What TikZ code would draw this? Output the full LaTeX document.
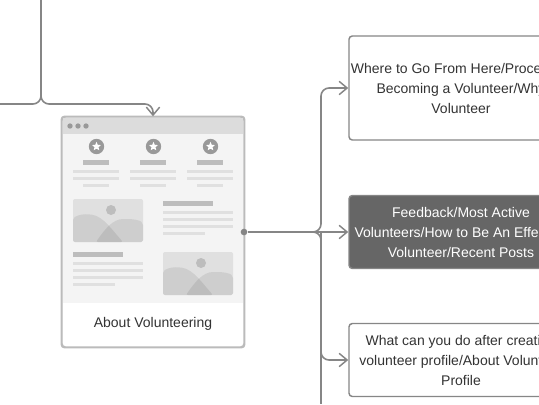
\documentclass[tikz,border=0pt]{standalone}
\usepackage{fontspec}
\setmainfont{Liberation Sans}
\usetikzlibrary{arrows.meta, shapes.geometric}
\definecolor{linkgray}{HTML}{868686}
\definecolor{cardgray}{HTML}{BBBBBB}
\definecolor{headgray}{HTML}{DCDCDC}
\definecolor{bodygray}{HTML}{F4F4F4}
\definecolor{bargray}{HTML}{BDBDBD}
\definecolor{rulegray}{HTML}{E0E0E0}
\definecolor{darkbox}{HTML}{666666}
\definecolor{inkgray}{HTML}{333333}
\tikzset{
  link/.style={draw=linkgray,line width=1.2pt,rounded corners=6pt},
  tip/.style={-{Straight Barb[length=6pt,width=10pt,line width=1.1pt]}},
  pagebox/.style={draw=linkgray,line width=1.1pt,rounded corners=2.5pt,fill=white,
        minimum width=168pt,inner sep=0pt,text=inkgray,align=center,
        font=\fontsize{10.5}{15}\selectfont},
  hills/.pic={
    \fill[rulegray,rounded corners=1.5pt,path picture={
        \fill[black,opacity=.08](0,19) .. controls (6,15.5) and (12,15) .. (17,15.5)
             .. controls (30,17) and (40,32) .. (50,43) -- (0,43) -- cycle;
        \fill[black,opacity=.08](23,43) .. controls (32,30) and (40,20) .. (52,20)
             .. controls (60,20) and (66,21) .. (70,24) -- (70,43) -- cycle;
      }](0,0) rectangle (70,43);
    \fill[bargray](38,11) circle (3.75pt);
  }
}
\begin{document}
\begin{tikzpicture}[x=0.75pt,y=-0.75pt]
  \clip (0,0) rectangle (539,404);
  % page card
  \node[draw=cardgray,line width=1.1pt,rounded corners=2.5pt,fill=white,
        minimum width=136.5pt,minimum height=172.5pt,inner sep=0pt](card) at (153,232){};
  \fill[headgray](63,118) rectangle (243,134);
  \fill[bodygray](63,134) rectangle (243,303);
  \foreach \x in {70,78,86}
    \fill[gray!80](\x,126) circle (2pt);
  % three columns
  \foreach \x/\name in {0/one,57/two,114/three}{
    \node[circle,fill=gray!80,minimum size=11.5pt,inner sep=0pt](badge\name) at (96.5+\x,146.5){};
    \node[star,star points=5,star point ratio=2.2,fill=white,minimum size=7pt,inner sep=0pt]
         (star\name) at (badge\name){};
    \fill[bargray](83+\x,160) rectangle (109+\x,165);
    \fill[rulegray](73+\x,170) rectangle (119+\x,173);
    \fill[rulegray](73+\x,177) rectangle (119+\x,180);
    \fill[rulegray](83+\x,184) rectangle (109+\x,187);
  }
  % text blocks and images
  \pic at (73,199) {hills};
  \pic at (163,252) {hills};
  \fill[bargray](163,201) rectangle (213,206);
  \foreach \y in {211,218,225}
    \fill[rulegray](163,\y) rectangle (233,\y+3);
  \fill[rulegray](163,232) rectangle (205,235);
  \fill[bargray](73,252) rectangle (123,257);
  \foreach \y in {262,269,276}
    \fill[rulegray](73,\y) rectangle (143,\y+3);
  \fill[rulegray](73,283) rectangle (115,286);
  \draw[cardgray,line width=1.1pt,rounded corners=2.5pt](card.north west) rectangle (card.south east);
  \node[text=inkgray,font=\fontsize{10.5}{15}\selectfont,inner sep=0pt](cardname) at (153,324){About Volunteering};
  % boxes on the right
  \node[pagebox,minimum height=78pt](where) at (461,88)
       {Where to Go From Here/Process of\\Becoming a Volunteer/Why\\Volunteer};
  \node[pagebox,minimum height=54.75pt,fill=darkbox,text=white](feedback) at (461,232)
       {Feedback/Most Active\\Volunteers/How to Be An Effective\\Volunteer/Recent Posts};
  \node[pagebox,minimum height=54.75pt](after) at (461,360)
       {What can you do after creating\\volunteer profile/About Volunteer\\Profile};
  % links
  \node[circle,fill=linkgray,minimum size=5pt,inner sep=0pt](dot) at (244,232){};
  \coordinate (hub) at (305,232);
  \coordinate (bus) at (321,232);
  \coordinate (busend) at (321,404);
  \coordinate (upper) at (41,0);
  \coordinate (join) at (41,104);
  \coordinate (offleft) at (0,104);
  \draw[link,tip](dot) -- (feedback.west);
  \draw[link,tip](hub) -- (bus) |- (where.west);
  \draw[link,tip](hub) -- (bus) |- (after.west);
  \draw[link](bus) -- (busend);
  \draw[link](upper) -- (join) -- (offleft);
  \draw[link,tip](upper) -- (join) -| (card.north);
\end{tikzpicture}
\end{document}
